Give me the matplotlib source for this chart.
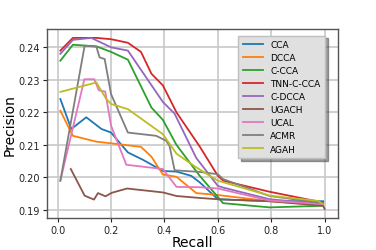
#!/usr/bin/env python3

import matplotlib
matplotlib.use('Agg')
import matplotlib.pyplot as plt

names = ['CCA', 'DCCA', 'C-CCA', 'TNN-C-CCA', 'C-DCCA', 'UGACH', 'UCAL', 'ACMR', 'AGAH']

cca_x = [0.01, 0.051, 0.107, 0.164, 0.20, 0.263, 0.32, 0.394, 0.445, 0.50, 0.532, 0.60, 0.794, 0.994]
cca_y = [0.2241, 0.2149, 0.2185, 0.2149, 0.2138, 0.2077, 0.2054, 0.2020, 0.2018, 0.2005, 0.1985, 0.1933, 0.1927, 0.1927]

dcca_x = [0.01, 0.057, 0.145, 0.20, 0.312, 0.351, 0.394, 0.445, 0.519, 0.60, 0.794, 0.994]
dcca_y = [0.2205, 0.2128, 0.2110, 0.2105, 0.2094, 0.2064, 0.2009, 0.2002, 0.1952, 0.1946, 0.1927, 0.1915]

ccca_x = [0.01, 0.057, 0.145, 0.20, 0.263, 0.351, 0.394, 0.445, 0.532, 0.60, 0.619, 0.794, 0.994]
ccca_y = [0.2359, 0.2408, 0.2403, 0.2386, 0.2362, 0.2215, 0.2177, 0.2100, 0.2005, 0.1940, 0.1921, 0.1908, 0.1913]

tnn_x = [0.01, 0.057, 0.145, 0.20, 0.263, 0.312, 0.351, 0.394, 0.445, 0.532, 0.60, 0.62, 0.794, 0.994]
tnn_y = [0.2390, 0.2429, 0.2429, 0.2425, 0.2414, 0.2386, 0.2319, 0.2283, 0.2200, 0.2095, 0.2005, 0.1990, 0.1956, 0.1923]

cdcca_x = [0.01, 0.057, 0.126, 0.20, 0.263, 0.394, 0.438, 0.519, 0.60, 0.619, 0.794, 0.994]
cdcca_y = [0.2380, 0.2423, 0.2429, 0.2400, 0.2390, 0.2232, 0.2196, 0.2060, 0.1974, 0.1969, 0.1933, 0.1918]

ugach_x = [0.049, 0.101, 0.136, 0.151, 0.179, 0.203, 0.26, 0.394, 0.445, 0.532, 0.60, 0.794, 0.994, 1.0]
ugach_y = [0.2026, 0.1944, 0.1932, 0.1952, 0.1942, 0.1953, 0.1966, 0.1954, 0.1943, 0.1937, 0.1933, 0.1927, 0.1913, 0.1903]

ucal_x = [0.01, 0.10, 0.137, 0.154, 0.178, 0.20, 0.257, 0.394, 0.445, 0.532, 0.60, 0.794, 0.994]
ucal_y = [0.1990, 0.2302, 0.2302, 0.2268, 0.2264, 0.2159, 0.2039, 0.2026, 0.1971, 0.1970, 0.1966, 0.1929, 0.1918]

acmr_x = [0.01, 0.101, 0.145, 0.157, 0.176, 0.20, 0.263, 0.369, 0.406, 0.419, 0.438, 0.532, 0.60, 0.619, 0.794, 0.994]
acmr_y = [0.1990, 0.2405, 0.2402, 0.2369, 0.2364, 0.2256, 0.2138, 0.2128, 0.2113, 0.2097, 0.2022, 0.2017, 0.2010, 0.1995, 0.1943, 0.1921]

agah_x = [0.01, 0.145, 0.182, 0.20, 0.263, 0.394, 0.445, 0.519, 0.60, 0.794, 0.975, 0.994]
agah_y = [0.2263, 0.2292, 0.2241, 0.2226, 0.2210, 0.2133, 0.2073, 0.2031, 0.1990, 0.1944, 0.1928, 0.1918]

series = [(cca_x, cca_y), (dcca_x, dcca_y), (ccca_x, ccca_y), (tnn_x, tnn_y),
          (cdcca_x, cdcca_y), (ugach_x, ugach_y), (ucal_x, ucal_y),
          (acmr_x, acmr_y), (agah_x, agah_y)]

fig = plt.figure(figsize=(3.76, 2.51), dpi=100)
ax = fig.add_axes([0.125, 0.127, 0.774, 0.753])

for (xs, ys), name in zip(series, names):
    ax.plot(xs, ys, label=name, linewidth=1.3)

ax.set_xlim(-0.04, 1.05)
ax.set_ylim(0.1875, 0.2456)
ax.set_xticks([0.0, 0.2, 0.4, 0.6, 0.8, 1.0])
ax.set_yticks([0.19, 0.20, 0.21, 0.22, 0.23, 0.24])
ax.tick_params(labelsize=7, length=3, width=0.8, pad=2, colors='#222222')
ax.grid(True, color='#c8c8c8', linewidth=1.2)
for s in ax.spines.values():
    s.set_color('#555555')
    s.set_linewidth(1.0)
ax.set_xlabel('Recall', fontsize=10, labelpad=0)
ax.set_ylabel('Precision', fontsize=10, labelpad=1)

legend = ax.legend(loc='upper right', shadow=True, fontsize=6.5, fancybox=False,
                   handlelength=2.2, labelspacing=0.45, borderpad=0.5,
                   bbox_to_anchor=(0.97, 0.99))
frame = legend.get_frame()
frame.set_facecolor('0.88')
frame.set_edgecolor('0.75')
frame.set_alpha(1.0)

fig.savefig('out.png', dpi=100)
